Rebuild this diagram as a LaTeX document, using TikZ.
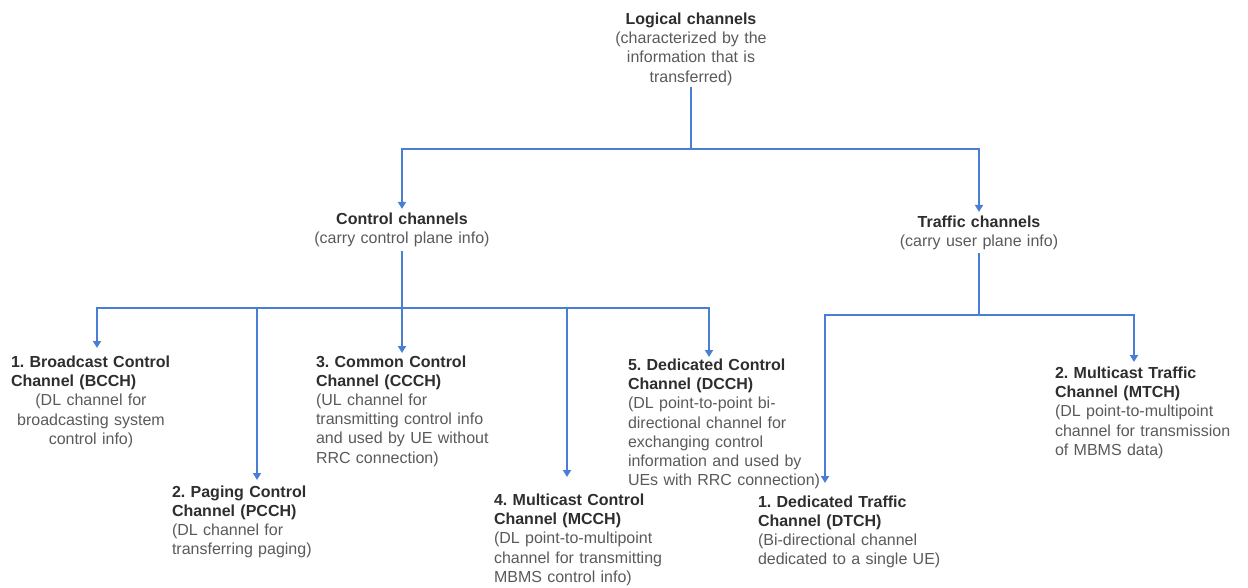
\documentclass[tikz,border=0pt]{standalone}
\usepackage{fontspec}
\setmainfont{Liberation Sans}
\usetikzlibrary{arrows.meta}
\definecolor{ttl}{HTML}{2E2E2E}
\definecolor{desc}{HTML}{5A5A5A}
\definecolor{wirec}{RGB}{72,126,212}
\newcommand\chhead[1]{{\bfseries\color{ttl}#1}}
\frenchspacing
\begin{document}
\begin{tikzpicture}[x=1pt,y=-1pt,
  txt/.style={inner sep=0pt, outer sep=0pt, font=\fontsize{16}{19.2}\selectfont\frenchspacing, text=desc},
  leftbox/.style={txt, anchor=base west, align=left, text width=#1},
  midbox/.style={txt, anchor=base, align=center, text width=#1},
  wire/.style={draw=wirec, line width=1.9pt},
  arr/.style={wire, -{Triangle[width=8pt,length=7pt]}},
]
\useasboundingbox (0,0) rectangle (1248,588);

% headings
\node[midbox=260] (logical) at (691,24.5) {\chhead{Logical channels}\\(characterized by the\\information that is\\transferred)};
\node[midbox=260] (ctrl) at (402,224.5) {\chhead{Control channels}\\(carry control plane info)};
\node[midbox=260] (traffic) at (979,227.5) {\chhead{Traffic channels}\\(carry user plane info)};

% leaves
\node[txt, anchor=base west, text width=160pt] (bcch) at (11,367.5)
  {\raggedright\chhead{\mbox{1. Broadcast Control}\\Channel (BCCH)}\par
   \centering (DL channel for\\broadcasting system\\control info)\par};
\node[leftbox=200pt] (pcch) at (172,497) {\chhead{2. Paging Control\\Channel (PCCH)}\\(DL channel for\\transferring paging)};
\node[leftbox=200pt] (ccch) at (316,367) {\chhead{3. Common Control\\Channel (CCCH)}\\(UL channel for\\transmitting control info\\and used by UE without\\RRC connection)};
\node[leftbox=200pt] (mcch) at (494,505.5) {\chhead{4. Multicast Control\\Channel (MCCH)}\\(DL point-to-multipoint\\channel for transmitting\\MBMS control info)};
\node[leftbox=200pt] (dcch) at (628,370.5) {\chhead{5. Dedicated Control\\Channel (DCCH)}\\(DL point-to-point bi-\\directional channel for\\exchanging control\\information and used by\\UEs with RRC connection)};
\node[leftbox=200pt] (dtch) at (758,507) {\chhead{1. Dedicated Traffic\\Channel (DTCH)}\\(Bi-directional channel\\dedicated to a single UE)};
\node[leftbox=200pt] (mtch) at (1055,378.5) {\chhead{2. Multicast Traffic\\Channel (MTCH)}\\(DL point-to-multipoint\\channel for transmission\\of MBMS data)};

% junctions and arrow tips
\coordinate (tbus) at (691,149);
\coordinate (cbus) at (402,308);
\coordinate (trbus) at (979,315);
\coordinate (bccht) at (97,348);
\coordinate (pccht) at (257,480);
\coordinate (nccht) at (402,353);
\coordinate (mccht) at (567,477);
\coordinate (dccht) at (709,357);
\coordinate (dtcht) at (825,483);
\coordinate (mtcht) at (1134,362);

% connectors
\draw[wire, shorten <=1.5pt] (logical) -- (tbus);
\draw[arr, shorten >=4pt] (tbus) -| (ctrl);
\draw[arr, shorten >=4pt] (tbus) -| (traffic);

\draw[wire, shorten <=4pt] (ctrl) -- (cbus);
\draw[arr] (cbus) -| (bccht);
\draw[arr] (cbus) -| (pccht);
\draw[arr] (cbus) -- (nccht);
\draw[arr] (cbus) -| (mccht);
\draw[arr] (cbus) -| (dccht);

\draw[wire, shorten <=3pt] (traffic) -- (trbus);
\draw[arr] (trbus) -| (dtcht);
\draw[arr] (trbus) -| (mtcht);
\end{tikzpicture}
\end{document}
